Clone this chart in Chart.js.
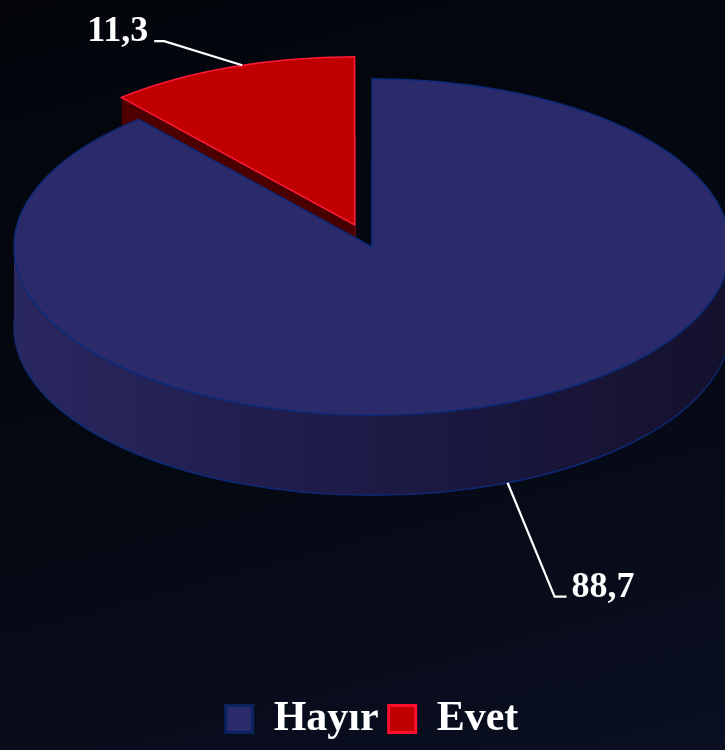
<!DOCTYPE html>
<html>
<head>
<meta charset="utf-8">
<script src="https://cdn.jsdelivr.net/npm/chart.js@4.4.1/dist/chart.umd.min.js"></script>
<style>
  html, body { margin: 0; padding: 0; }
  body {
    width: 725px; height: 750px; overflow: hidden;
    background: linear-gradient(165deg, #03050b 0%, #050913 55%, #0a0f22 100%);
  }
  #wrap { width: 725px; height: 750px; }
</style>
</head>
<body>
<div id="wrap"><canvas id="pie"></canvas></div>
<script>
const labels = ["Hayır", "Evet"];
const values = [88.7, 11.3];
const valueLabels = ["88,7", "11,3"];

const topColors = ["#2b2a6b", "#c00000"];
const edgeColors = ["#0c2a78", "#ff1a3a"];
const legendBorders = ["#0c2260", "#ff1030"];

const SERIF = "'Palatino Linotype', 'Book Antiqua', Palatino, 'Liberation Serif', serif";

// tilt + thickness of the fake 3D pie
const TILT = 0.47;
const DEPTH = 80;
const EXPLODE = [0, 50];
const FLOOR_GAP = 194; // empty band between the pie and the legend

function slicePath(ctx, arc, i, k) {
  const mid = (arc.startAngle + arc.endAngle) / 2;
  const cx = arc.x + Math.cos(mid) * EXPLODE[i];
  const cy = arc.y + Math.sin(mid) * EXPLODE[i];
  ctx.save();
  ctx.translate(0, arc.y + k);
  ctx.scale(1, TILT);
  ctx.translate(0, -arc.y);
  ctx.beginPath();
  ctx.moveTo(cx, cy);
  ctx.arc(cx, cy, arc.outerRadius, arc.startAngle, arc.endAngle);
  ctx.closePath();
  ctx.restore();
}

function sideFill(ctx, arc, i) {
  const g = ctx.createLinearGradient(arc.x - arc.outerRadius, 0, arc.x + arc.outerRadius, 0);
  if (i === 0) {
    g.addColorStop(0, "#29275f");
    g.addColorStop(0.5, "#1d1a46");
    g.addColorStop(1, "#14112d");
  } else {
    g.addColorStop(0, "#520000");
    g.addColorStop(1, "#3a0000");
  }
  return g;
}

const pie3d = {
  id: "pie3d",
  afterLayout(chart) {
    const a = chart.chartArea;
    a.bottom -= FLOOR_GAP;
    a.height -= FLOOR_GAP;
  },
  beforeDatasetsDraw(chart) {
    const ctx = chart.ctx;
    const arcs = chart.getDatasetMeta(0).data;
    // bottom outline
    arcs.forEach((arc, i) => {
      slicePath(ctx, arc, i, DEPTH);
      ctx.fillStyle = sideFill(ctx, arc, i);
      ctx.fill();
      ctx.lineWidth = 1.5;
      ctx.strokeStyle = edgeColors[i];
      ctx.stroke();
    });
    // side walls
    for (let k = DEPTH - 1; k >= 1; k--) {
      arcs.forEach((arc, i) => {
        slicePath(ctx, arc, i, k);
        ctx.fillStyle = sideFill(ctx, arc, i);
        ctx.fill();
      });
    }
    // top faces
    arcs.forEach((arc, i) => {
      slicePath(ctx, arc, i, 0);
      ctx.fillStyle = topColors[i];
      ctx.fill();
      ctx.lineWidth = 1.5;
      ctx.strokeStyle = edgeColors[i];
      ctx.stroke();
    });
    return false;
  },
  afterDraw(chart) {
    const ctx = chart.ctx;
    const arcs = chart.getDatasetMeta(0).data;
    // anchor position along the slice (0..1), leader dx, dy, tail
    const leaders = [[0.494, 47, 114, 12], [0.55, -78, -24, -10]];
    ctx.save();
    ctx.font = "bold 36px " + SERIF;
    ctx.fillStyle = "#ffffff";
    ctx.strokeStyle = "#ffffff";
    ctx.lineWidth = 2.2;
    arcs.forEach((arc, i) => {
      const [f, dx, dy, h] = leaders[i];
      const mid = (arc.startAngle + arc.endAngle) / 2;
      const ang = arc.startAngle + (arc.endAngle - arc.startAngle) * f;
      const cx = arc.x + Math.cos(mid) * EXPLODE[i];
      const cy = arc.y + Math.sin(mid) * EXPLODE[i];
      const ax = cx + Math.cos(ang) * arc.outerRadius;
      let ay = arc.y + (cy - arc.y + Math.sin(ang) * arc.outerRadius) * TILT;
      if (Math.sin(ang) > 0) ay += DEPTH;
      const ex = ax + dx, ey = ay + dy;
      ctx.beginPath();
      ctx.moveTo(ax, ay);
      ctx.lineTo(ex, ey);
      ctx.lineTo(ex + h, ey);
      ctx.stroke();
      ctx.textBaseline = "alphabetic";
      ctx.textAlign = h > 0 ? "left" : "right";
      ctx.fillText(valueLabels[i], ex + h + (h > 0 ? 5 : -6), ey);
    });
    ctx.restore();
  }
};

new Chart(document.getElementById("pie"), {
  type: "pie",
  data: {
    labels: labels,
    datasets: [{
      data: values,
      backgroundColor: topColors,
      borderColor: legendBorders,
      borderWidth: 3,
      radius: 358,
      clip: false
    }]
  },
  options: {
    responsive: true,
    maintainAspectRatio: false,
    animation: false,
    layout: { padding: { top: 0, left: 19, right: 0, bottom: 0 } },
    plugins: {
      legend: {
        position: "bottom",
        labels: {
          color: "#ffffff",
          font: { family: SERIF, size: 42, weight: "bold" },
          boxWidth: 27,
          boxHeight: 27,
          padding: 10
        }
      },
      tooltip: { enabled: false }
    }
  },
  plugins: [pie3d]
});
</script>
</body>
</html>
